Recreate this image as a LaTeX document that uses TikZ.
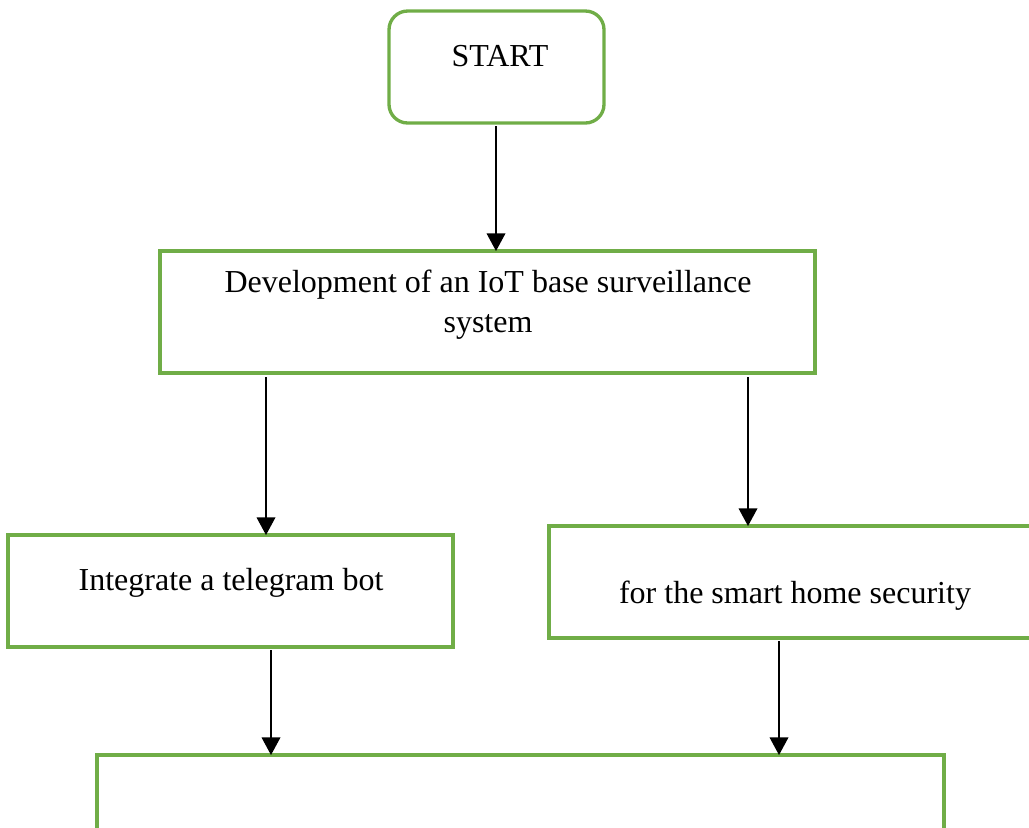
\documentclass[tikz,border=0pt]{standalone}
\usepackage{fontspec}
\setmainfont{Liberation Serif}
\usetikzlibrary{arrows.meta,calc}
\definecolor{boxgreen}{HTML}{70AD47}

\begin{document}
\begin{tikzpicture}[x=0.375pt,y=-0.375pt,
    every node/.style={font=\fontsize{12}{15}\selectfont},
    box/.style={draw=boxgreen,line width=1.25pt,inner sep=0pt,outer sep=0pt},
    txt/.style={anchor=base,align=center},
    arr/.style={line width=0.5pt,-{Triangle[width=7pt,length=6.6pt]}}]
  \useasboundingbox (0,0) rectangle (1029,827);
  % boxes
  \node[box,rounded corners=7pt,minimum width=215*0.375pt,minimum height=112*0.375pt] (start) at (496.5,67) {};
  \node[box,minimum width=655*0.375pt,minimum height=122*0.375pt] (dev) at (487.5,312) {};
  \node[box,minimum width=445*0.375pt,minimum height=112*0.375pt] (integ) at (230.5,591) {};
  \node[box,minimum width=560*0.375pt,minimum height=112*0.375pt] (smart) at (829,582) {};
  \node[box,minimum width=847*0.375pt,minimum height=200*0.375pt] (next) at (520.5,855) {};
  % texts
  \node[txt] (tstart) at (500,66) {START};
  \node[txt] (tdev1) at (488,292) {Development of an IoT base surveillance};
  \node[txt] (tdev2) at (488,332) {system};
  \node[txt] (tinteg) at (231,590) {Integrate a telegram bot};
  \node[txt] (tsmart) at (795,603) {for the smart home security};
  % connectors
  \coordinate (c1) at (496,126);
  \coordinate (c2) at (266,377);
  \coordinate (c3) at (748,377);
  \coordinate (c4) at (271,650);
  \coordinate (c5) at (779,641);
  \draw[arr] (c1) -- (c1 |- dev.north);
  \draw[arr] (c2) -- (c2 |- integ.north);
  \draw[arr] (c3) -- (c3 |- smart.north);
  \draw[arr] (c4) -- (c4 |- next.north);
  \draw[arr] (c5) -- (c5 |- next.north);
\end{tikzpicture}
\end{document}
